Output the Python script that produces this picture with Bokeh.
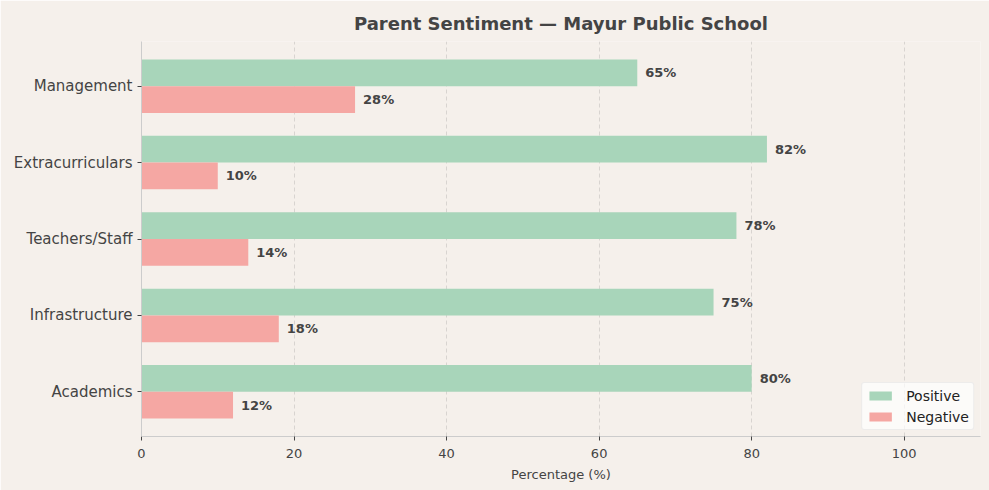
from bokeh.plotting import figure
from bokeh.models import ColumnDataSource, FixedTicker, Legend, LegendItem, Range1d
from bokeh.core.properties import value
from bokeh.transform import dodge
from bokeh.embed import file_html
from bokeh.resources import INLINE

categories = ["Academics", "Infrastructure", "Teachers/Staff", "Extracurriculars", "Management"]
positive = [80, 75, 78, 82, 65]
negative = [12, 18, 14, 10, 28]

bg = "#f5f0eb"
text_col = "#444444"
font = "DejaVu Sans"
bar_h = 0.35

idx = list(range(len(categories)))
src = ColumnDataSource(data=dict(
    y=idx,
    pos=positive,
    neg=negative,
    pos_lbl=[f"{v}%" for v in positive],
    neg_lbl=[f"{v}%" for v in negative],
))

p = figure(frame_width=839, frame_height=395, output_backend="svg", toolbar_location=None,
           x_range=Range1d(0, 110), y_range=Range1d(-0.585, 4.585),
           title="Parent Sentiment \u2014 Mayur Public School",
           min_border_left=141, min_border_right=9, min_border_top=41, min_border_bottom=54)

p.background_fill_color = bg
p.border_fill_color = bg
p.outline_line_color = None

p.title.align = "center"
p.title.text_font = font
p.title.text_font_size = "18px"
p.title.text_font_style = "bold"
p.title.text_color = text_col
p.title.text_line_height = 1.0
p.title.offset = 0
p.title.standoff = 16

# positive above the category centre, negative below
r_pos = p.hbar(y=dodge("y", bar_h / 2), left=0, right="pos", height=bar_h, source=src,
               fill_color="#a8d5ba", line_color=None)
r_neg = p.hbar(y=dodge("y", -bar_h / 2), left=0, right="neg", height=bar_h, source=src,
               fill_color="#f5a7a3", line_color=None)

p.text(x="pos", y=dodge("y", bar_h / 2), text="pos_lbl", source=src,
       x_offset=8, text_baseline="middle", text_font=value(font),
       text_font_size="13px", text_font_style="bold", text_color=text_col)
p.text(x="neg", y=dodge("y", -bar_h / 2), text="neg_lbl", source=src,
       x_offset=8, text_baseline="middle", text_font=value(font),
       text_font_size="13px", text_font_style="bold", text_color=text_col)

# axes
p.yaxis.ticker = FixedTicker(ticks=idx)
p.yaxis.major_label_overrides = {i: c for i, c in enumerate(categories)}
p.xaxis.ticker = FixedTicker(ticks=[0, 20, 40, 60, 80, 100])
p.xaxis.axis_label = "Percentage (%)"
for ax in (p.xaxis, p.yaxis):
    ax.axis_line_color = "#cccccc"
    ax.major_tick_line_color = text_col
    ax.major_tick_in = 0
    ax.major_tick_out = 4
    ax.minor_tick_line_color = None
    ax.major_label_text_font = font
    ax.major_label_text_color = text_col
p.yaxis.major_label_text_font_size = "15px"
p.yaxis.major_label_standoff = 5
p.xaxis.major_label_text_font_size = "13px"
p.xaxis.major_label_standoff = 8
p.xaxis.axis_label_text_font = font
p.xaxis.axis_label_text_font_size = "13px"
p.xaxis.axis_label_text_font_style = "normal"
p.xaxis.axis_label_text_color = text_col
p.xaxis.axis_label_standoff = 6

p.ygrid.grid_line_color = None
p.xgrid.grid_line_color = "#d8d4d0"
p.xgrid.grid_line_dash = "4 3"
p.xgrid.grid_line_width = 1

legend = Legend(items=[LegendItem(label="Positive", renderers=[r_pos]),
                       LegendItem(label="Negative", renderers=[r_neg])],
                location="bottom_right")
legend.label_text_font = font
legend.label_text_font_size = "14px"
legend.label_text_color = "#222222"
legend.background_fill_color = "#ffffff"
legend.background_fill_alpha = 0.7
legend.border_line_color = "#dddddd"
legend.border_radius = 3
legend.glyph_width = 28
legend.glyph_height = 11
legend.label_height = 17
legend.spacing = 4
legend.padding = 4
legend.margin = 6
legend.label_standoff = 12
p.add_layout(legend)

open("out.html", "w").write(file_html(p, INLINE))
